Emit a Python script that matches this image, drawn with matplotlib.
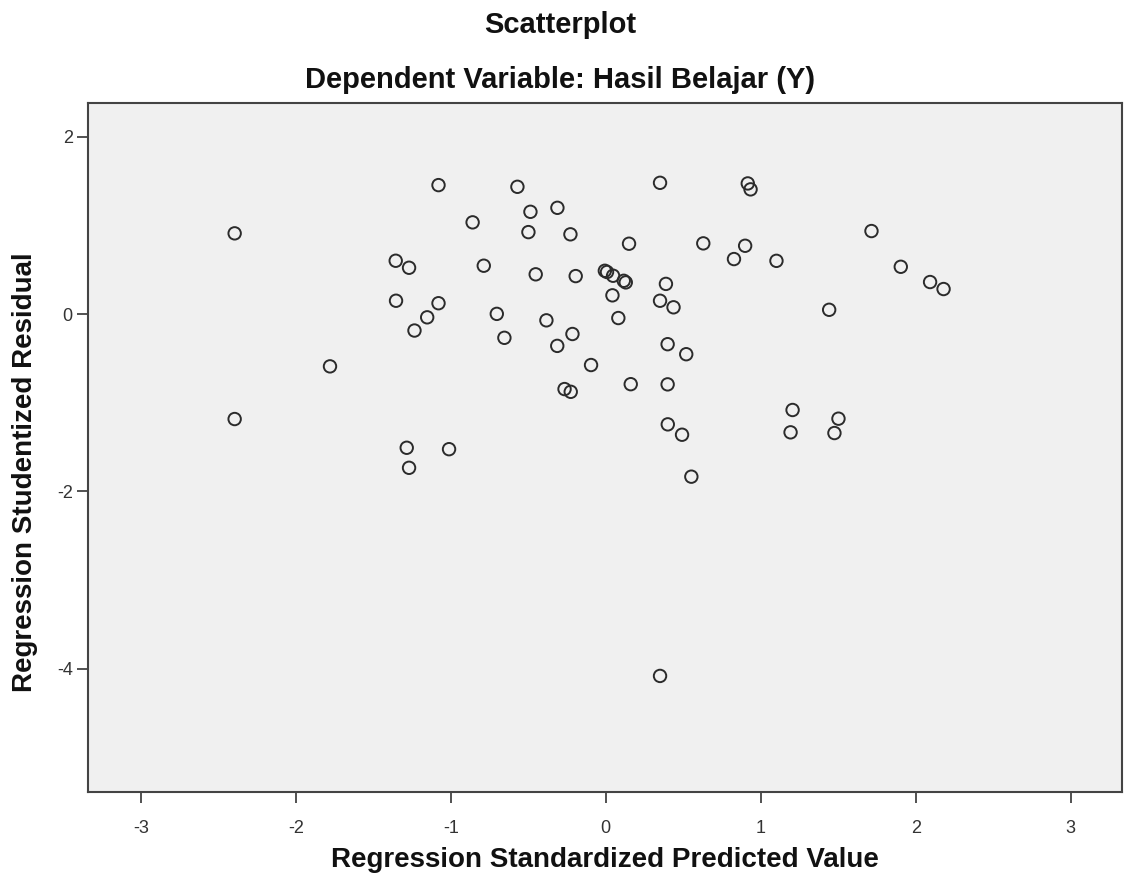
import matplotlib
matplotlib.use("Agg")
import matplotlib.pyplot as plt

# Regression standardized predicted value (x) and studentized residual (y)
pred_value = [-2.394, -2.394, -1.779, -1.355, -1.269, -1.353, -1.079, -1.152, -1.234,
              -1.284, -1.269, -1.011, -1.079, -0.859, -0.787, -0.703, -0.654, -0.570,
              -0.486, -0.499, -0.452, -0.383, -0.312, -0.313, -0.228, -0.215, -0.194,
              -0.266, -0.226, -0.095, -0.006, 0.008, 0.047, 0.116, 0.129, 0.043,
              0.081, 0.150, 0.161, 0.350, 0.388, 0.350, 0.437, 0.399, 0.399,
              0.400, 0.519, 0.492, 0.552, 0.350, 0.629, 0.827, 0.899, 0.916,
              0.934, 1.101, 1.205, 1.192, 1.441, 1.501, 1.475, 1.714, 1.903,
              2.092, 2.179]
stud_resid = [0.910, -1.184, -0.590, 0.601, 0.522, 0.150, 0.122, -0.037, -0.186,
              -1.508, -1.734, -1.524, 1.454, 1.034, 0.545, 0.002, -0.268, 1.435,
              1.153, 0.924, 0.448, -0.071, 1.198, -0.359, 0.899, -0.225, 0.428,
              -0.846, -0.877, -0.575, 0.488, 0.474, 0.432, 0.375, 0.357, 0.211,
              -0.045, 0.793, -0.791, 1.480, 0.340, 0.150, 0.076, -0.340, -0.793,
              -1.244, -0.453, -1.361, -1.834, -4.081, 0.797, 0.620, 0.770, 1.473,
              1.406, 0.600, -1.082, -1.334, 0.048, -1.180, -1.342, 0.936, 0.533,
              0.361, 0.282]

x_ticks = [-3, -2, -1, 0, 1, 2, 3]
y_ticks = [2, 0, -2, -4]

title = "Scatterplot"
subtitle = "Dependent Variable: Hasil Belajar (Y)"
x_label = "Regression Standardized Predicted Value"
y_label = "Regression Studentized Residual"

plt.rcParams['font.family'] = ['Liberation Sans', 'DejaVu Sans']

W, H = 1125, 881
fig = plt.figure(figsize=(W / 100, H / 100), dpi=100)
fig.patch.set_facecolor('white')

left, right, top, bottom = 88, 1122, 103, 792
ax = fig.add_axes([left / W, 1 - bottom / H, (right - left) / W, (bottom - top) / H])
ax.set_facecolor('#f0f0f0')

ax.scatter(pred_value, stud_resid, s=80, facecolors='none', edgecolors='#2b2b2b',
           linewidths=1.4, zorder=3)

ax.set_xlim(-3.34, 3.33)
ax.set_ylim(-5.39, 2.38)
ax.set_xticks(x_ticks)
ax.set_yticks(y_ticks)
ax.set_xticklabels([str(t) for t in x_ticks])
ax.set_yticklabels([str(t) for t in y_ticks])
ax.tick_params(axis='both', direction='out', length=8, width=1.2, color='#333333',
               labelsize=13, labelcolor='#333333')
ax.tick_params(axis='x', pad=12)
ax.tick_params(axis='y', pad=3)
ax.tick_params(top=False, right=False)

for sp in ax.spines.values():
    sp.set_color('#444444')
    sp.set_linewidth(1.5)

fig.text(560 / W, 1 - 25 / H, title, ha='center', va='center', fontsize=21,
         fontweight='bold', color='#111111')
fig.text(560 / W, 1 - 80 / H, subtitle, ha='center', va='center', fontsize=21,
         fontweight='bold', color='#111111')
fig.text(605 / W, 1 - 860 / H, x_label, ha='center', va='center', fontsize=20,
         fontweight='bold', color='#111111')
fig.text(25 / W, 1 - 472 / H, y_label, ha='center', va='center', rotation=90,
         fontsize=20, fontweight='bold', color='#111111')

fig.savefig('out.png', dpi=100, facecolor='white')
